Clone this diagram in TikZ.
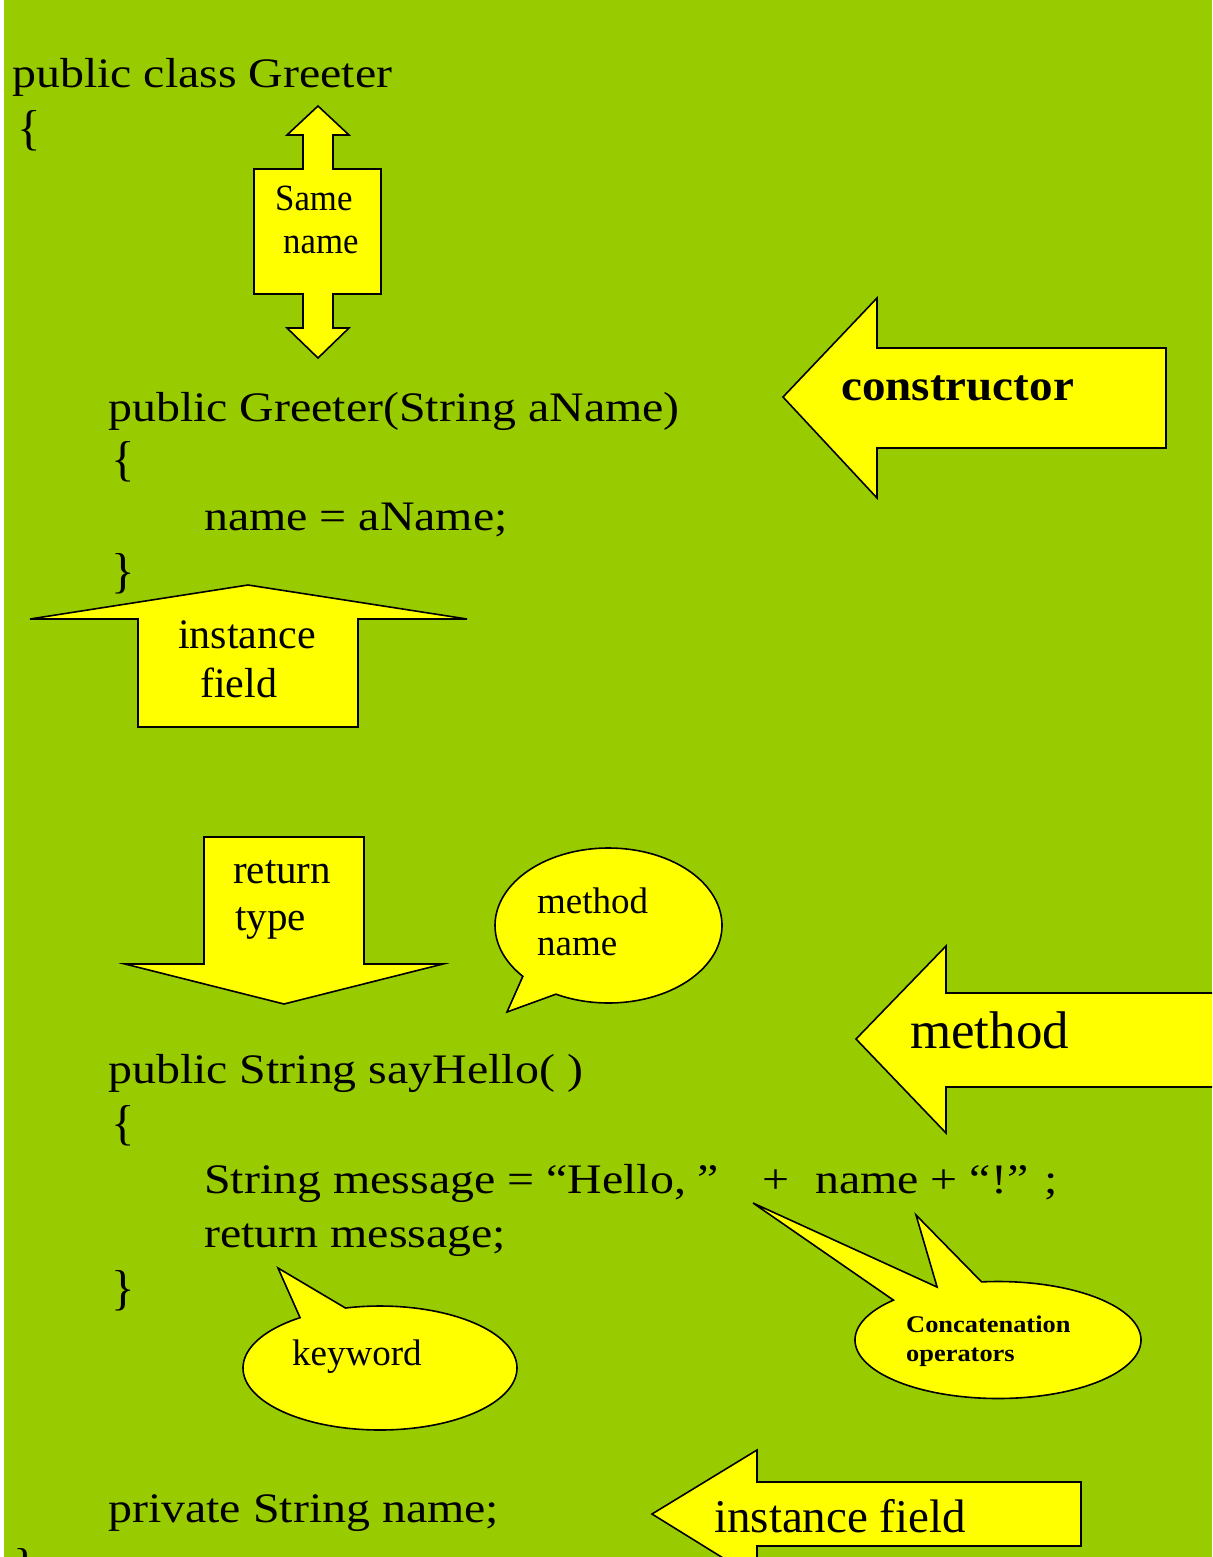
\documentclass[tikz,border=0pt]{standalone}
\usepackage{fontspec}
\setmainfont{Liberation Serif}
\newfontfamily\codefont[FakeStretch=1.14]{Liberation Serif}
\newfontfamily\narrowfont[FakeStretch=0.94]{Liberation Serif}
\newfontfamily\widefont[FakeStretch=1.07]{Liberation Serif}
\newfontfamily\concatfont[FakeStretch=1.1]{Liberation Serif}
\definecolor{bggreen}{HTML}{99CC00}
\definecolor{calloutyellow}{HTML}{FFFF00}
\begin{document}
\begin{tikzpicture}[x=1pt,y=-1pt,
  yshape/.style={fill=calloutyellow,draw=black,line width=1.6pt,line join=miter},
  codetext/.style={anchor=base west,inner sep=0pt,font=\codefont\fontsize{42}{50}\selectfont},
  bracetext/.style={anchor=base west,inner sep=0pt,font=\fontsize{49}{56}\selectfont},
  lbl/.style={anchor=base west,inner sep=0pt}]
\useasboundingbox (0,0) rectangle (1212,1557);
\fill[white] (0,0) rectangle (1212,1557);
\fill[bggreen] (4,0) rectangle (1212,1557);
\clip (0,0) rectangle (1212,1557);

% ---------- shapes ----------
% Same name double arrow
\filldraw[yshape] (318,106) -- (349,135) -- (333,135) -- (333,169) -- (381,169) -- (381,294)
  -- (333,294) -- (333,328) -- (349,328) -- (318,358) -- (287,328) -- (303,328) -- (303,294)
  -- (254,294) -- (254,169) -- (303,169) -- (303,135) -- (287,135) -- cycle;
% constructor arrow
\filldraw[yshape] (783,397) -- (877,298) -- (877,348) -- (1166,348) -- (1166,448) -- (877,448) -- (877,498) -- cycle;
% instance field (up)
\filldraw[yshape] (248,585) -- (467,619) -- (358,619) -- (358,727) -- (138,727) -- (138,619) -- (30,619) -- cycle;
% return type (down)
\filldraw[yshape] (204,837) -- (364,837) -- (364,964) -- (443,964) -- (284,1004) -- (125,964) -- (204,964) -- cycle;
% method name callout
\filldraw[yshape] plot[domain=139:477.6,samples=140] ({608.5+113.5*cos(\x)},{925.5+77.5*sin(\x)}) -- (507,1012) -- cycle;
% method arrow
\filldraw[yshape] (856,1039) -- (946,946) -- (946,993) -- (1230,993) -- (1230,1087) -- (946,1087) -- (946,1133) -- cycle;
% keyword callout
\filldraw[yshape] plot[domain=255.4:594.3,samples=140] ({380+137*cos(\x)},{1368+62*sin(\x)}) -- (278,1268) -- cycle;
% concatenation callout
\filldraw[yshape] plot[domain=263.4:583,samples=160] ({998+143*cos(\x)},{1340+58.5*sin(\x)})
  -- (753,1203) -- ({998+143*cos(244.8)},{1340+58.5*sin(244.8)}) -- (916,1215) -- cycle;
% instance field (left arrow)
\filldraw[yshape] (652,1514) -- (757,1450) -- (757,1482) -- (1081,1482) -- (1081,1546) -- (757,1546) -- (757,1579) -- cycle;

% ---------- code ----------
\node[codetext] (c1) at (12,88) {public class Greeter};
\node[bracetext] (c2) at (17,145) {\{};
\node[codetext] (c3) at (108,421) {public Greeter(String aName)};
\node[bracetext] (c4) at (111,475) {\{};
\node[codetext] (c5) at (204,530) {name = aName;};
\node[bracetext] (c6) at (111,587) {\}};
\node[codetext] (c7) at (108,1083) {public String sayHello( )};
\node[bracetext] (c8) at (111,1139) {\{};
\node[codetext] (c9) at (204,1193) {String message = “Hello, ”\hspace{31pt} + \hspace{14pt}name + “!” ;};
\node[codetext] (c10) at (204,1247) {return message;};
\node[bracetext] (c11) at (111,1304) {\}};
\node[codetext] (c12) at (108,1522) {private String name;};
\node[bracetext] (c13) at (13,1582) {\}};

% ---------- labels ----------
\node[lbl,font=\narrowfont\fontsize{37}{42}\selectfont] (sn1) at (275,211) {Same};
\node[lbl,font=\narrowfont\fontsize{37}{42}\selectfont] (sn2) at (283,253) {name};
\node[lbl,font=\widefont\bfseries\fontsize{44}{50}\selectfont] (ctor) at (841,400) {constructor};
\node[lbl,font=\fontsize{42}{49}\selectfont] (if1) at (178,648) {instance};
\node[lbl,font=\fontsize{42}{49}\selectfont] (if2) at (200,697) {field};
\node[lbl,font=\fontsize{41}{47}\selectfont] (rt1) at (233,883) {return};
\node[lbl,font=\fontsize{41}{47}\selectfont] (rt2) at (235,930) {type};
\node[lbl,font=\fontsize{37}{42}\selectfont] (mn1) at (537,913) {method};
\node[lbl,font=\fontsize{37}{42}\selectfont] (mn2) at (537,955) {name};
\node[lbl,font=\fontsize{53}{60}\selectfont] (meth) at (910,1048) {method};
\node[lbl,font=\concatfont\bfseries\fontsize{24}{30}\selectfont] (co1) at (906,1332) {Concatenation};
\node[lbl,font=\concatfont\bfseries\fontsize{24}{30}\selectfont] (co2) at (906,1361) {operators};
\node[lbl,font=\fontsize{37}{42}\selectfont] (kw) at (292,1365) {keyword};
\node[lbl,font=\fontsize{47}{54}\selectfont] (if3) at (714,1532) {instance field};
\end{tikzpicture}
\end{document}
